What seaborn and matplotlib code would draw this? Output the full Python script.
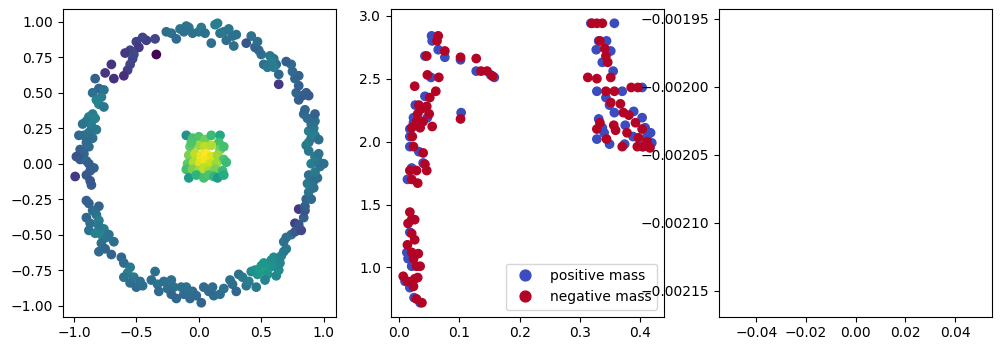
import matplotlib.pyplot as plt
import pandas as pd
import seaborn as sns

# left panel: ring + central blob, coloured by value
ring_x = [-0.26, -0.22, -0.15, -0.12, -0.08, -0.05, 0.00, 0.02, 0.05, 0.10, 0.13, 0.15, 0.17, 0.20, 0.22, 0.24, 0.27, 0.28, 0.30, -0.18, -0.10,
          -0.34, -0.35, -0.42, -0.45, -0.50, -0.48, -0.55, -0.59, -0.53, -0.55, -0.57, -0.60, -0.68, -0.70, -0.75, -0.52,
          -0.83, -0.80, -0.85, -0.76, -0.78, -0.82, -0.80, -0.76, -0.85, -0.88, -0.83, -0.90, -0.86, -0.93, -0.82, -0.96, -0.92, -0.88, -0.85, -0.90, -0.88, -0.95, -0.92, -0.98, -0.95, -0.90, -0.88, -0.84, -0.99, -0.87, -0.90, -0.87, -0.86,
          -0.90, -0.88, -0.80, -0.85, -0.90, -0.82, -0.87, -0.80, -0.80, -0.88, -0.83, -0.76, -0.78, -0.74, -0.72, -0.78, -0.75, -0.80, -0.68, -0.70,
          -0.62, -0.60, -0.55, -0.57, -0.60, -0.52, -0.55, -0.50, -0.45, -0.47, -0.38, -0.35, -0.33, -0.32, -0.28, -0.25, -0.22, -0.20, -0.22, -0.18, -0.14, -0.12, -0.10, -0.07, -0.05, -0.02, 0.02, 0.04, 0.08, 0.11, 0.12, 0.17, 0.20, 0.25, 0.27, 0.30, 0.32,
          0.35, 0.38, 0.40, 0.42, 0.45, 0.47, 0.49, 0.50, 0.52, 0.53, 0.55, 0.57, 0.58, 0.60, 0.60, 0.62, 0.64, 0.65, 0.66, 0.68, 0.70, 0.68, 0.70, 0.53, 0.46,
          0.74, 0.77, 0.80, 0.77, 0.82, 0.80, 0.84, 0.85, 0.85, 0.86, 0.90, 0.88, 0.92, 0.87, 0.92, 0.95, 0.88, 0.93, 0.97, 0.90, 0.95, 0.93, 0.96, 1.00, 0.88,
          0.86, 0.88, 0.90, 0.93, 0.96, 0.88, 0.92, 0.90, 0.93, 0.87, 0.84, 0.93, 0.85, 0.80, 0.83, 0.86, 0.88, 0.78, 0.80, 0.77, 0.80, 0.75, 0.74, 0.70, 0.64, 0.64, 0.62, 0.60, 0.57, 0.58, 0.52, 0.50, 0.48, 0.45, 0.47, 0.42, 0.38, 0.55, 0.60]
ring_y = [0.93, 0.92, 0.95, 0.93, 0.96, 0.92, 0.93, 0.96, 0.92, 0.85, 0.98, 0.99, 0.92, 0.93, 0.87, 0.95, 0.90, 0.83, 0.91, 0.88, 0.97,
          0.77, 0.88, 0.87, 0.89, 0.86, 0.82, 0.80, 0.78, 0.74, 0.70, 0.66, 0.62, 0.60, 0.70, 0.64, 0.77,
          0.60, 0.53, 0.50, 0.52, 0.47, 0.45, 0.42, 0.40, 0.35, 0.33, 0.32, 0.30, 0.27, 0.28, 0.24, 0.20, 0.20, 0.22, 0.18, 0.15, 0.12, 0.10, 0.07, 0.05, 0.03, 0.02, 0.00, -0.03, -0.09, -0.05, -0.08, -0.12, -0.15,
          -0.26, -0.28, -0.30, -0.33, -0.38, -0.36, -0.42, -0.40, -0.44, -0.47, -0.49, -0.46, -0.50, -0.52, -0.50, -0.56, -0.60, -0.62, -0.55, -0.64,
          -0.66, -0.70, -0.73, -0.77, -0.80, -0.80, -0.84, -0.87, -0.86, -0.83, -0.82, -0.76, -0.85, -0.90, -0.83, -0.88, -0.82, -0.87, -0.92, -0.95, -0.87, -0.92, -0.87, -0.95, -0.90, -0.93, -0.98, -0.87, -0.90, -0.87, -0.93, -0.92, -0.88, -0.82, -0.85, -0.90, -0.78,
          -0.80, -0.86, -0.83, -0.76, -0.75, -0.78, -0.74, -0.72, -0.70, -0.76, -0.78, -0.73, -0.68, -0.66, -0.72, -0.79, -0.75, -0.70, -0.65, -0.62, -0.60, -0.55, -0.52, -0.82, -0.87,
          -0.50, -0.42, -0.32, -0.48, -0.47, -0.43, -0.38, -0.33, -0.30, -0.25, -0.25, -0.20, -0.17, -0.14, -0.12, -0.10, -0.08, -0.06, -0.02, 0.00, 0.03, 0.05, 0.07, 0.00, 0.09,
          0.13, 0.15, 0.18, 0.20, 0.17, 0.23, 0.25, 0.28, 0.30, 0.32, 0.35, 0.35, 0.38, 0.45, 0.48, 0.50, 0.48, 0.50, 0.55, 0.60, 0.62, 0.65, 0.70, 0.72, 0.56, 0.63, 0.70, 0.74, 0.76, 0.72, 0.70, 0.77, 0.80, 0.82, 0.86, 0.90, 0.85, 0.68, 0.68]
ring_c = [0.36, 0.36, 0.38, 0.37, 0.38, 0.37, 0.38, 0.40, 0.37, 0.36, 0.42, 0.42, 0.38, 0.40, 0.36, 0.39, 0.37, 0.36, 0.37, 0.34, 0.38,
          0.00, 0.20, 0.18, 0.20, 0.19, 0.17, 0.20, 0.16, 0.20, 0.21, 0.18, 0.14, 0.14, 0.15, 0.16, 0.22,
          0.30, 0.33, 0.36, 0.38, 0.42, 0.44, 0.45, 0.40, 0.42, 0.43, 0.44, 0.40, 0.42, 0.38, 0.40, 0.33, 0.36, 0.38, 0.36, 0.34, 0.35, 0.30, 0.32, 0.25, 0.28, 0.33, 0.30, 0.31, 0.16, 0.30, 0.28, 0.26, 0.28,
          0.30, 0.31, 0.32, 0.35, 0.33, 0.38, 0.36, 0.42, 0.40, 0.37, 0.44, 0.42, 0.44, 0.40, 0.38, 0.36, 0.33, 0.34, 0.36, 0.32,
          0.33, 0.35, 0.40, 0.42, 0.38, 0.40, 0.36, 0.34, 0.36, 0.37, 0.35, 0.36, 0.38, 0.34, 0.37, 0.36, 0.37, 0.36, 0.33, 0.33, 0.36, 0.35, 0.37, 0.34, 0.36, 0.34, 0.32, 0.34, 0.35, 0.36, 0.34, 0.36, 0.37, 0.36, 0.35, 0.33, 0.36,
          0.40, 0.38, 0.42, 0.48, 0.50, 0.52, 0.55, 0.54, 0.52, 0.56, 0.52, 0.54, 0.50, 0.48, 0.50, 0.46, 0.48, 0.46, 0.44, 0.42, 0.40, 0.38, 0.36, 0.45, 0.40,
          0.36, 0.18, 0.16, 0.28, 0.22, 0.25, 0.30, 0.26, 0.30, 0.32, 0.34, 0.38, 0.37, 0.40, 0.38, 0.35, 0.36, 0.40, 0.38, 0.42, 0.40, 0.42, 0.38, 0.36, 0.40,
          0.40, 0.42, 0.40, 0.44, 0.36, 0.42, 0.40, 0.38, 0.36, 0.35, 0.34, 0.30, 0.33, 0.30, 0.28, 0.30, 0.28, 0.32, 0.30, 0.33, 0.31, 0.34, 0.35, 0.30, 0.16, 0.33, 0.35, 0.38, 0.40, 0.42, 0.36, 0.36, 0.34, 0.32, 0.36, 0.37, 0.26, 0.40, 0.42]

blob_x = [-0.10, -0.05, 0.00, 0.05, 0.10, 0.17, 0.16, -0.07, 0.00, 0.05, 0.10, 0.17, -0.08, -0.03, 0.02, 0.06, 0.10, 0.15, 0.20, -0.09, -0.04,
          0.01, 0.05, 0.09, 0.14, 0.22, -0.10, -0.05, 0.00, 0.04, 0.08, 0.13, 0.19, -0.08, -0.02, 0.04, 0.08, 0.12, 0.15, 0.20, 0.20, -0.06]
blob_y = [0.20, 0.18, 0.19, 0.17, 0.20, 0.20, 0.15, 0.12, 0.13, 0.12, 0.13, 0.10, 0.06, 0.07, 0.06, 0.07, 0.05, 0.06, 0.03, 0.00, 0.01,
          0.00, 0.02, 0.00, 0.00, 0.01, -0.04, -0.04, -0.05, -0.03, -0.05, -0.04, -0.05, -0.10, -0.08, -0.10, -0.08, -0.09, -0.10, -0.08, 0.12, 0.15]
blob_c = [0.50, 0.70, 0.72, 0.78, 0.68, 0.60, 0.70, 0.75, 0.85, 0.90, 0.88, 0.78, 0.80, 0.90, 0.97, 1.00, 0.95, 0.85, 0.72, 0.75, 0.88,
          0.95, 0.98, 0.92, 0.85, 0.68, 0.70, 0.80, 0.85, 0.90, 0.86, 0.80, 0.68, 0.55, 0.65, 0.70, 0.72, 0.66, 0.55, 0.62, 0.70, 0.72]

# middle panel: positive / negative mass
pos_x = [0.054, 0.055, 0.065, 0.076, 0.043, 0.102, 0.128, 0.152, 0.158, 0.053, 0.043, 0.047, 0.103, 0.027, 0.024, 0.024, 0.018, 0.018, 0.018, 0.033, 0.040, 0.021, 0.014,
         0.018, 0.013, 0.015, 0.021, 0.010, 0.018, 0.025, 0.035,
         0.318, 0.357, 0.327, 0.331, 0.344, 0.351, 0.337, 0.355, 0.328, 0.370, 0.403, 0.343, 0.349, 0.357, 0.389, 0.403, 0.331, 0.337, 0.340, 0.375, 0.408,
         0.328, 0.349, 0.388, 0.411, 0.417, 0.374, 0.419, 0.403]
pos_y = [2.84, 2.80, 2.73, 2.67, 2.68, 2.65, 2.56, 2.53, 2.51, 2.51, 2.36, 2.19, 2.23, 2.29, 2.19, 2.15, 2.10, 2.04, 1.96, 1.92, 1.83, 1.79, 1.70,
         1.28, 1.12, 1.07, 1.01, 0.89, 0.84, 0.76, 0.72,
         2.94, 2.94, 2.73, 2.80, 2.80, 2.72, 2.63, 2.56, 2.40, 2.40, 2.43, 2.35, 2.29, 2.23, 2.24, 2.19, 2.18, 2.11, 2.07, 2.13, 2.11,
         2.02, 1.98, 2.04, 2.04, 2.07, 1.98, 1.99, 1.96]
neg_x = [0.065, 0.063, 0.076, 0.046, 0.102, 0.128, 0.136, 0.146, 0.155, 0.047, 0.066, 0.026, 0.061, 0.051, 0.102, 0.033, 0.037, 0.031, 0.029, 0.040, 0.050, 0.046,
         0.021, 0.035, 0.055, 0.022, 0.024, 0.040, 0.043, 0.046, 0.018, 0.029, 0.021, 0.031,
         0.018, 0.021, 0.026, 0.015, 0.021, 0.026, 0.014, 0.021, 0.032, 0.024, 0.029, 0.035, 0.007, 0.014, 0.026, 0.031, 0.024, 0.029, 0.038,
         0.320, 0.328, 0.337, 0.333, 0.341, 0.343, 0.346, 0.351, 0.313, 0.328, 0.343, 0.357, 0.385, 0.396, 0.351, 0.367, 0.372, 0.381, 0.333, 0.328,
         0.356, 0.359, 0.392, 0.403, 0.344, 0.378, 0.397, 0.411, 0.370, 0.395, 0.405, 0.416]
neg_y = [2.84, 2.80, 2.72, 2.68, 2.67, 2.66, 2.56, 2.56, 2.52, 2.53, 2.51, 2.44, 2.40, 2.35, 2.18, 2.29, 2.26, 2.22, 2.16, 2.16, 2.22, 2.28,
         2.11, 2.11, 2.12, 2.04, 1.96, 1.91, 1.82, 1.77, 1.77, 1.77, 1.70, 1.67,
         1.44, 1.38, 1.38, 1.35, 1.27, 1.22, 1.18, 1.12, 1.11, 1.07, 1.01, 1.01, 0.93, 0.89, 0.91, 0.92, 0.85, 0.75, 0.72,
         2.94, 2.94, 2.94, 2.80, 2.74, 2.68, 2.63, 2.51, 2.51, 2.50, 2.40, 2.40, 2.43, 2.43, 2.31, 2.30, 2.23, 2.21, 2.15, 2.10,
         2.13, 2.09, 2.15, 2.10, 2.02, 2.07, 2.03, 2.00, 1.96, 1.96, 1.96, 1.95]

# right panel: a single point, so nothing is drawn
single_x = [0.0]
single_y = [-0.002056]

left = pd.DataFrame({"x": ring_x + blob_x, "y": ring_y + blob_y, "c": ring_c + blob_c})
mid = pd.DataFrame({
    "x": pos_x + neg_x,
    "y": pos_y + neg_y,
    "mass": ["positive mass"] * len(pos_x) + ["negative mass"] * len(neg_x),
})

fig, axes = plt.subplots(1, 3, figsize=(10.02, 3.51), dpi=100)
fig.subplots_adjust(left=0.0626, right=0.9903, bottom=0.0977, top=0.9735, wspace=0.2)

sns.scatterplot(data=left, x="x", y="y", hue="c", palette="viridis", hue_norm=(0, 1),
                s=36, linewidth=1, edgecolor="face", legend=False, ax=axes[0])
axes[0].set_xlabel("")
axes[0].set_ylabel("")

sns.scatterplot(data=mid, x="x", y="y", hue="mass",
                palette={"positive mass": "#3b4cc0", "negative mass": "#b40426"},
                s=36, linewidth=1, edgecolor="face", ax=axes[1])
axes[1].set_xlabel("")
axes[1].set_ylabel("")
axes[1].legend(loc="lower right", markerscale=1.3)

sns.lineplot(x=single_x, y=single_y, ax=axes[2])

plt.savefig("out.png", dpi=100)
